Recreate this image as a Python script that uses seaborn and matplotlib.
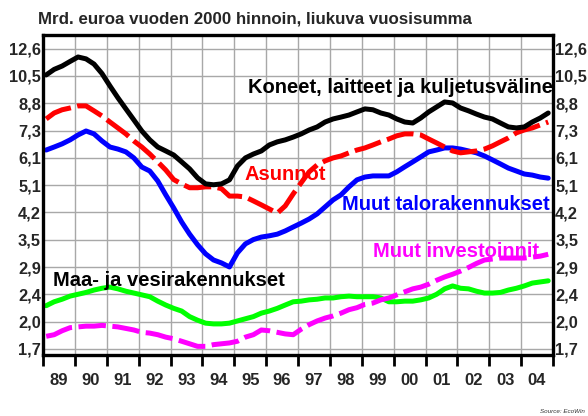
import numpy as np
import pandas as pd
import seaborn as sns
import matplotlib.pyplot as plt
from matplotlib.ticker import FixedLocator, NullLocator, FixedFormatter, NullFormatter

# ------------------------------
# Data: neljännesvuosittaiset liukuvat vuosisummat (mrd. euroa)
# ------------------------------
neljannekset = pd.period_range('1989Q1', '2004Q4', freq='Q')
vuosi = neljannekset.year + (neljannekset.quarter - 1) / 4 + 0.1

koneet = [10.6, 11.0, 11.25, 11.6, 11.95, 11.8, 11.4, 10.7, 9.85, 9.1,
          8.45, 7.85, 7.29, 6.87, 6.55, 6.38, 6.21, 5.93, 5.66, 5.33,
          5.12, 5.09, 5.12, 5.26, 5.77, 6.09, 6.25, 6.38, 6.64, 6.78,
          6.87, 7.0, 7.15, 7.34, 7.49, 7.74, 7.9, 8.0, 8.11, 8.28,
          8.45, 8.4, 8.22, 8.11, 7.9, 7.74, 7.69, 7.95, 8.28, 8.56,
          8.85, 8.79, 8.5, 8.34, 8.16, 8.0, 7.9, 7.69, 7.49, 7.44,
          7.49, 7.74, 7.95, 8.22]
asunnot = [7.9, 8.22, 8.4, 8.5, 8.62, 8.62, 8.34, 8.06, 7.74, 7.44,
           7.15, 6.82, 6.55, 6.25, 5.93, 5.62, 5.27, 5.12, 4.99, 4.99,
           5.02, 5.02, 4.96, 4.72, 4.72, 4.69, 4.57, 4.45, 4.33, 4.21,
           4.42, 4.79, 5.16, 5.55, 5.81, 5.97, 6.09, 6.17, 6.3, 6.42,
           6.51, 6.64, 6.78, 6.91, 7.06, 7.15, 7.15, 7.1, 6.91, 6.73,
           6.55, 6.38, 6.3, 6.34, 6.38, 6.46, 6.6, 6.78, 6.96, 7.2,
           7.34, 7.44, 7.59, 7.74]
muut_talo = [6.42, 6.55, 6.69, 6.87, 7.1, 7.29, 7.15, 6.82, 6.55, 6.46,
             6.34, 6.09, 5.73, 5.58, 5.22, 4.76, 4.36, 3.97, 3.66, 3.41,
             3.21, 3.08, 3.02, 2.94, 3.23, 3.43, 3.53, 3.59, 3.62, 3.66,
             3.74, 3.84, 3.94, 4.05, 4.19, 4.39, 4.6, 4.76, 5.02, 5.26,
             5.36, 5.4, 5.4, 5.4, 5.55, 5.74, 5.93, 6.13, 6.34, 6.42,
             6.51, 6.51, 6.46, 6.38, 6.3, 6.17, 6.01, 5.85, 5.69, 5.58,
             5.47, 5.43, 5.36, 5.32]
maa_vesi = [2.27, 2.33, 2.37, 2.42, 2.45, 2.48, 2.52, 2.55, 2.57, 2.54,
            2.5, 2.47, 2.44, 2.41, 2.34, 2.28, 2.23, 2.19, 2.11, 2.06,
            2.02, 2.01, 2.01, 2.02, 2.05, 2.08, 2.11, 2.16, 2.19, 2.23,
            2.28, 2.33, 2.34, 2.36, 2.37, 2.39, 2.39, 2.41, 2.42, 2.41,
            2.41, 2.41, 2.39, 2.33, 2.33, 2.34, 2.34, 2.36, 2.39, 2.45,
            2.54, 2.59, 2.55, 2.54, 2.5, 2.47, 2.47, 2.48, 2.52, 2.55,
            2.59, 2.64, 2.66, 2.68]
muut_inv = [1.85, 1.87, 1.92, 1.96, 1.97, 1.98, 1.98, 1.99, 1.98, 1.97,
            1.95, 1.93, 1.9, 1.89, 1.87, 1.84, 1.82, 1.79, 1.76, 1.73,
            1.73, 1.75, 1.76, 1.77, 1.79, 1.84, 1.87, 1.93, 1.92, 1.9,
            1.88, 1.87, 1.94, 2.0, 2.05, 2.09, 2.12, 2.16, 2.21, 2.24,
            2.29, 2.31, 2.36, 2.39, 2.44, 2.49, 2.54, 2.57, 2.62, 2.69,
            2.75, 2.8, 2.86, 2.93, 3.01, 3.08, 3.1, 3.12, 3.12, 3.12,
            3.12, 3.14, 3.16, 3.2]

y_nimet = ['1,7', '2,0', '2,4', '2,9', '3,5', '4,2', '5,1', '6,1', '7,3', '8,8', '10,5', '12,6']
vuosi_nimet = ['89', '90', '91', '92', '93', '94', '95', '96', '97', '98',
               '99', '00', '01', '02', '03', '04']

df = pd.DataFrame({'vuosi': vuosi,
                   'Maa- ja vesirakennukset': maa_vesi,
                   'Muut investoinnit': muut_inv,
                   'Muut talorakennukset': muut_talo,
                   'Asunnot': asunnot,
                   'Koneet, laitteet ja kuljetusvälineet': koneet})
pitka = df.melt(id_vars='vuosi', var_name='sarja', value_name='arvo')

jarjestys = ['Maa- ja vesirakennukset', 'Muut investoinnit', 'Muut talorakennukset',
             'Asunnot', 'Koneet, laitteet ja kuljetusvälineet']
varit = {'Maa- ja vesirakennukset': '#00ff00',
         'Muut investoinnit': '#ff00ff',
         'Muut talorakennukset': '#0000ff',
         'Asunnot': '#ff0000',
         'Koneet, laitteet ja kuljetusvälineet': '#000000'}
viivat = {'Maa- ja vesirakennukset': '',
          'Muut investoinnit': (5.5, 1.3),
          'Muut talorakennukset': '',
          'Asunnot': (5.5, 1.3),
          'Koneet, laitteet ja kuljetusvälineet': ''}

# ------------------------------
# Kuva
# ------------------------------
sns.set_style("white")
plt.rcParams['font.family'] = ['Liberation Sans', 'DejaVu Sans']

fig = plt.figure(figsize=(5.88, 4.16), dpi=100)
ax = fig.add_axes([43 / 588, 1 - 355 / 416, 510 / 588, 320 / 416])

sns.lineplot(data=pitka, x='vuosi', y='arvo', hue='sarja', style='sarja',
             hue_order=jarjestys, style_order=jarjestys, palette=varit,
             dashes=viivat, linewidth=3.6, legend=False, sort=False, ax=ax)

ax.set_yscale('log')
ax.set_ylim(1.633, 13.84)
ax.set_xlim(1989, 2005)
ax.set_xlabel('')
ax.set_ylabel('')

y_tikit = [1.7 * 1.2 ** n for n in range(len(y_nimet))]
ax.yaxis.set_major_locator(FixedLocator(y_tikit))
ax.yaxis.set_major_formatter(FixedFormatter(y_nimet))
ax.yaxis.set_minor_locator(NullLocator())
ax.yaxis.set_minor_formatter(NullFormatter())

ax.xaxis.set_major_locator(FixedLocator(list(range(1989, 2006))))
ax.xaxis.set_major_formatter(NullFormatter())
ax.xaxis.set_minor_locator(FixedLocator([v + 0.5 for v in range(1989, 2005)]))
ax.xaxis.set_minor_formatter(FixedFormatter(vuosi_nimet))

ax.tick_params(axis='y', which='both', length=0, pad=1.5, labelsize=11.8,
               labelleft=True, labelright=True)
ax.tick_params(axis='x', which='major', bottom=True, length=8, width=2, color='black')
ax.tick_params(axis='x', which='minor', length=0, pad=13, labelsize=12)
for lab in ax.get_yticklabels() + ax.get_xticklabels(minor=True):
    lab.set_fontweight('bold')

ax.grid(True, which='major', color='#a8a8a8', linewidth=1.0)
ax.set_axisbelow(True)
for s in ax.spines.values():
    s.set_visible(True)
    s.set_color('black')
    s.set_linewidth(2.4)

# sarjojen nimet
ax.text(1995.43, 9.40, 'Koneet, laitteet ja kuljetusvälineet', color='black',
        fontsize=14.5, fontweight='bold', va='baseline', clip_on=True)
ax.text(1995.33, 5.26, 'Asunnot', color='#ff0000', fontsize=14.5, fontweight='bold', va='baseline')
ax.text(1998.37, 4.30, 'Muut talorakennukset', color='#0000ff', fontsize=14.5,
        fontweight='bold', va='baseline')
ax.text(1999.34, 3.14, 'Muut investoinnit', color='#ff00ff', fontsize=14.5,
        fontweight='bold', va='baseline')
ax.text(1989.31, 2.59, 'Maa- ja vesirakennukset', color='black', fontsize=14.5,
        fontweight='bold', va='baseline')

fig.text(38 / 588, 1 - 23 / 416, 'Mrd. euroa vuoden 2000 hinnoin, liukuva vuosisumma',
         fontsize=12.2, fontweight='bold', ha='left', va='baseline')
fig.text(585 / 588, 1 - 413 / 416, 'Source: EcoWin', fontsize=4.5, style='italic',
         ha='right', va='baseline', color='#333333')

fig.savefig('out.png', dpi=100)
